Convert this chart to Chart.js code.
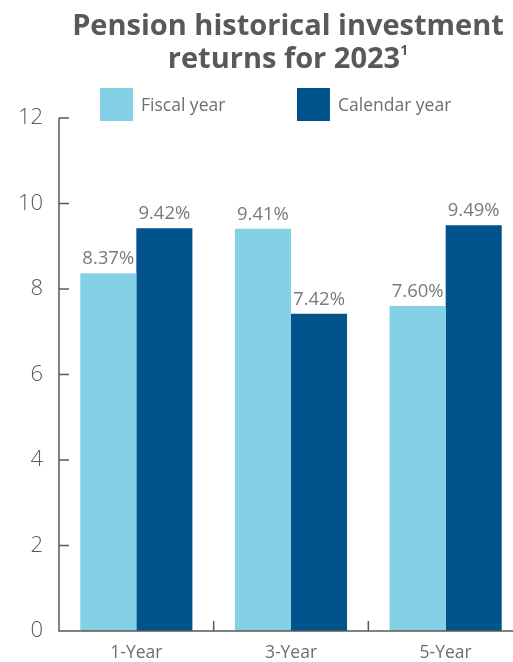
<!DOCTYPE html>
<html>
<head>
<meta charset="utf-8">
<script src="https://cdn.jsdelivr.net/npm/chart.js@4"></script>
<style>
  html, body { margin: 0; padding: 0; background: #fff; overflow: hidden; }
  #wrap { position: relative; width: 530px; height: 662px; }
  #chart { position: absolute; left: 0; top: 0; }
  .title {
    position: absolute; left: 58px; width: 460px; top: 7px;
    text-align: center; font-family: "Open Sans", sans-serif; font-weight: 700;
    font-size: 29px; line-height: 33px; color: #58595b;
  }
  .title sup { font-size: 14px; vertical-align: 13px; line-height: 0; }
  .legend-box { position: absolute; top: 88px; width: 33px; height: 33px; }
  .legend-text {
    position: absolute; top: 92px; font-family: "Open Sans", sans-serif;
    font-size: 17.5px; color: #6d6e71;
  }
</style>
</head>
<body>
<div id="wrap">
  <canvas id="chart" width="530" height="662"></canvas>
  <div class="title">Pension historical investment<br>returns for 2023<sup>1</sup></div>
  <div class="legend-box" style="left:100px;background:#84d1e6"></div>
  <div class="legend-text" style="left:141px">Fiscal year</div>
  <div class="legend-box" style="left:297px;background:#00538b"></div>
  <div class="legend-text" style="left:338px">Calendar year</div>
</div>
<script>
const periods = ['1-Year', '3-Year', '5-Year'];
const fiscalYear = [8.37, 9.41, 7.60];
const calendarYear = [9.42, 7.42, 9.49];
const yTicks = [0, 2, 4, 6, 8, 10, 12];

const axisColor = '#58595b';

// value labels over each bar
const barLabels = {
  id: 'barLabels',
  afterDatasetsDraw(chart) {
    const ctx = chart.ctx;
    ctx.save();
    ctx.font = '18.5px "Open Sans", sans-serif';
    ctx.fillStyle = '#7a7a7c';
    ctx.textAlign = 'center';
    ctx.textBaseline = 'bottom';
    chart.data.datasets.forEach((ds, i) => {
      chart.getDatasetMeta(i).data.forEach((bar, j) => {
        ctx.fillText(ds.data[j].toFixed(2) + '%', bar.x, bar.y - 5);
      });
    });
    ctx.restore();
  }
};

// axis lines with inward tick marks
const axisTicks = {
  id: 'axisTicks',
  afterDraw(chart) {
    const ctx = chart.ctx;
    const x = chart.scales.x, y = chart.scales.y;
    const area = chart.chartArea;
    ctx.save();
    ctx.strokeStyle = axisColor;
    ctx.lineWidth = 1.5;
    ctx.beginPath();
    ctx.moveTo(area.left, area.top);
    ctx.lineTo(area.left, area.bottom);
    ctx.lineTo(area.right, area.bottom);
    yTicks.forEach(v => {
      const py = y.getPixelForValue(v);
      ctx.moveTo(area.left, py);
      ctx.lineTo(area.left + 10, py);
    });
    for (let i = 1; i < periods.length; i++) {
      const px = (x.getPixelForValue(i - 1) + x.getPixelForValue(i)) / 2;
      ctx.moveTo(px, area.bottom);
      ctx.lineTo(px, area.bottom - 10);
    }
    ctx.stroke();
    ctx.restore();
  }
};

new Chart(document.getElementById('chart'), {
  type: 'bar',
  data: {
    labels: periods,
    datasets: [
      { label: 'Fiscal year', data: fiscalYear, backgroundColor: '#84d1e6' },
      { label: 'Calendar year', data: calendarYear, backgroundColor: '#00538b' }
    ]
  },
  options: {
    responsive: false,
    animation: false,
    layout: { padding: { top: 118, right: 7, left: 0, bottom: 0 } },
    datasets: { bar: { categoryPercentage: 0.725, barPercentage: 1 } },
    plugins: { legend: { display: false }, tooltip: { enabled: false } },
    scales: {
      x: {
        grid: { display: false },
        border: { display: false },
        ticks: {
          color: '#6d6e71',
          font: { family: '"Open Sans", sans-serif', size: 17.5 },
          padding: 4
        },
        afterFit(scale) { scale.height = 31; }
      },
      y: {
        min: 0,
        max: 12,
        grid: { display: false },
        border: { display: false },
        ticks: {
          stepSize: 2,
          color: '#58595b',
          font: { family: '"Open Sans", sans-serif', size: 22, weight: 300 },
          padding: 8
        },
        afterFit(scale) { scale.width = 59; }
      }
    }
  },
  plugins: [barLabels, axisTicks]
});
</script>
</body>
</html>
